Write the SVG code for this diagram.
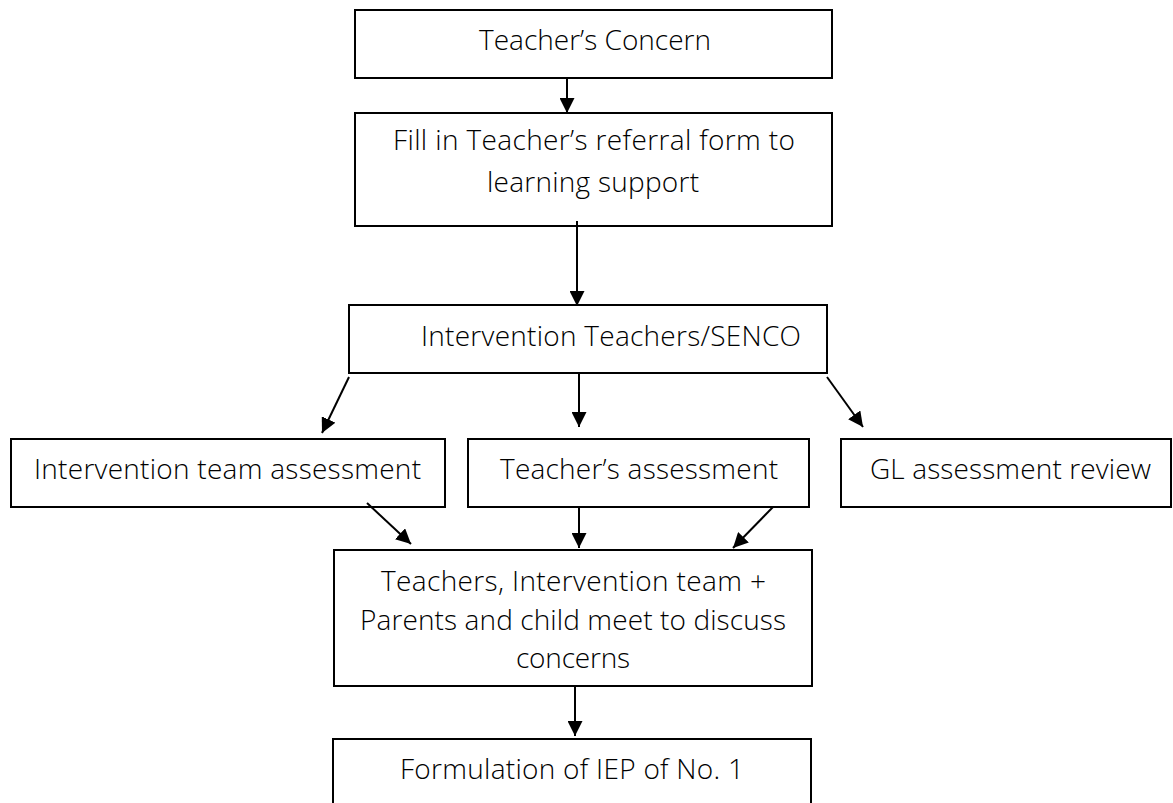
<svg xmlns="http://www.w3.org/2000/svg" width="1173" height="803" viewBox="0 0 1173 803">
<style>
.box{fill:#fff;stroke:#000;stroke-width:2}
.lbl{font-family:"Open Sans","Liberation Sans",sans-serif;font-weight:300;font-size:28px;fill:#000}
.c{text-anchor:middle}
.conn line{stroke:#000;stroke-width:2;marker-end:url(#ah)}
</style>
<defs>
<marker id="ah" markerUnits="userSpaceOnUse" markerWidth="16" markerHeight="15" refX="15" refY="7.5" orient="auto">
<path d="M0,0 L15,7.5 L0,15 z" fill="#000"/>
</marker>
</defs>
<rect width="1173" height="803" fill="#fff"/>
<g id="n1"><rect class="box" x="355" y="10" width="477" height="68"/><text class="lbl c" x="595" y="50" textLength="232">Teacher’s Concern</text></g>
<g id="n2"><rect class="box" x="355" y="113" width="477" height="113"/><text class="lbl c" x="594" y="150" textLength="402">Fill in Teacher’s referral form to</text><text class="lbl c" x="593" y="192" textLength="212">learning support</text></g>
<g id="n3"><rect class="box" x="349" y="305" width="478" height="68"/><text class="lbl" x="421" y="346" textLength="380">Intervention Teachers/SENCO</text></g>
<g id="n4"><rect class="box" x="11" y="439" width="434" height="68"/><text class="lbl" x="34" y="479" textLength="387">Intervention team assessment</text></g>
<g id="n5"><rect class="box" x="468" y="439" width="341" height="68"/><text class="lbl" x="500" y="479" textLength="278">Teacher’s assessment</text></g>
<g id="n6"><rect class="box" x="841" y="439" width="330" height="68"/><text class="lbl" x="870" y="479" textLength="281">GL assessment review</text></g>
<g id="n7"><rect class="box" x="334" y="550" width="478" height="136"/><text class="lbl c" x="573.5" y="591" textLength="385">Teachers, Intervention team +</text><text class="lbl c" x="573" y="630" textLength="426">Parents and child meet to discuss</text><text class="lbl c" x="573" y="668" textLength="114">concerns</text></g>
<g id="n8"><rect class="box" x="333" y="739" width="478" height="90"/><text class="lbl" x="400" y="779" textLength="344">Formulation of IEP of No. 1</text></g>
<g id="connectors" class="conn">
<line x1="567" y1="78" x2="567" y2="113"/>
<line x1="577" y1="221" x2="577" y2="306"/>
<line x1="349" y1="377" x2="322" y2="433"/>
<line x1="579" y1="373" x2="579" y2="427"/>
<line x1="827" y1="377" x2="863" y2="427"/>
<line x1="367" y1="503" x2="411" y2="544"/>
<line x1="579" y1="507" x2="579" y2="548"/>
<line x1="773" y1="507" x2="733" y2="548"/>
<line x1="575" y1="686" x2="575" y2="736"/>
</g>
</svg>
